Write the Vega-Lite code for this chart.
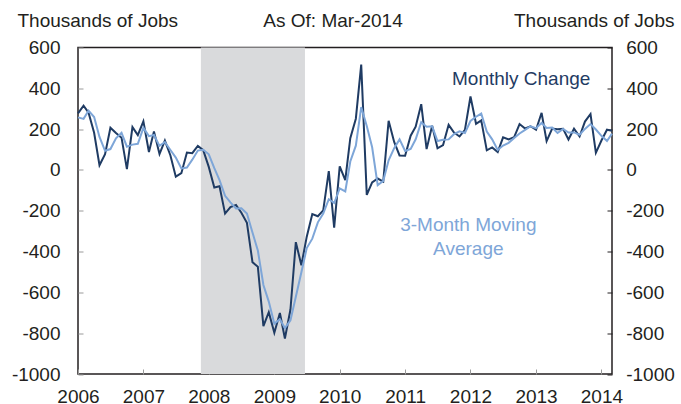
{
  "$schema": "https://vega.github.io/schema/vega-lite/v6.json",
  "width": 534,
  "height": 326.5,
  "autosize": {"type": "none"},
  "padding": {"left": 78, "top": 47.5, "right": 69, "bottom": 30},
  "background": "white",
  "title": {"text": "As Of: Mar-2014", "anchor": "middle", "frame": "group", "dx": -12, "dy": 23, "fontSize": 19, "font": "Liberation Sans", "fontWeight": "normal", "color": "#231f20"},
  "datasets": {
    "jobs": [
      {"date":"2006-01-01","change":277,"ma":257.7},{"date":"2006-02-01","change":315,"ma":250.3},{"date":"2006-03-01","change":280,"ma":290.7},{"date":"2006-04-01","change":182,"ma":259.0},{"date":"2006-05-01","change":23,"ma":161.7},{"date":"2006-06-01","change":77,"ma":94.0},{"date":"2006-07-01","change":207,"ma":102.3},{"date":"2006-08-01","change":181,"ma":155.0},{"date":"2006-09-01","change":158,"ma":182.0},{"date":"2006-10-01","change":4,"ma":114.3},{"date":"2006-11-01","change":210,"ma":124.0},{"date":"2006-12-01","change":171,"ma":128.3},
      {"date":"2007-01-01","change":238,"ma":206.3},{"date":"2007-02-01","change":88,"ma":165.7},{"date":"2007-03-01","change":188,"ma":171.3},{"date":"2007-04-01","change":78,"ma":118.0},{"date":"2007-05-01","change":144,"ma":136.7},{"date":"2007-06-01","change":71,"ma":97.7},{"date":"2007-07-01","change":-33,"ma":60.7},{"date":"2007-08-01","change":-16,"ma":7.3},{"date":"2007-09-01","change":85,"ma":12.0},{"date":"2007-10-01","change":82,"ma":50.3},{"date":"2007-11-01","change":118,"ma":95.0},{"date":"2007-12-01","change":97,"ma":99.0},
      {"date":"2008-01-01","change":15,"ma":76.7},{"date":"2008-02-01","change":-86,"ma":8.7},{"date":"2008-03-01","change":-80,"ma":-50.3},{"date":"2008-04-01","change":-214,"ma":-126.7},{"date":"2008-05-01","change":-182,"ma":-158.7},{"date":"2008-06-01","change":-172,"ma":-189.3},{"date":"2008-07-01","change":-210,"ma":-188.0},{"date":"2008-08-01","change":-259,"ma":-213.7},{"date":"2008-09-01","change":-452,"ma":-307.0},{"date":"2008-10-01","change":-474,"ma":-395.0},{"date":"2008-11-01","change":-765,"ma":-563.7},{"date":"2008-12-01","change":-697,"ma":-645.3},
      {"date":"2009-01-01","change":-798,"ma":-753.3},{"date":"2009-02-01","change":-701,"ma":-732.0},{"date":"2009-03-01","change":-826,"ma":-775.0},{"date":"2009-04-01","change":-684,"ma":-737.0},{"date":"2009-05-01","change":-354,"ma":-621.3},{"date":"2009-06-01","change":-467,"ma":-501.7},{"date":"2009-07-01","change":-327,"ma":-382.7},{"date":"2009-08-01","change":-216,"ma":-336.7},{"date":"2009-09-01","change":-227,"ma":-256.7},{"date":"2009-10-01","change":-198,"ma":-213.7},{"date":"2009-11-01","change":-6,"ma":-143.7},{"date":"2009-12-01","change":-283,"ma":-162.3},
      {"date":"2010-01-01","change":18,"ma":-90.3},{"date":"2010-02-01","change":-50,"ma":-105.0},{"date":"2010-03-01","change":156,"ma":41.3},{"date":"2010-04-01","change":251,"ma":119.0},{"date":"2010-05-01","change":516,"ma":307.7},{"date":"2010-06-01","change":-122,"ma":215.0},{"date":"2010-07-01","change":-61,"ma":111.0},{"date":"2010-08-01","change":-42,"ma":-75.0},{"date":"2010-09-01","change":-57,"ma":-53.3},{"date":"2010-10-01","change":241,"ma":47.3},{"date":"2010-11-01","change":137,"ma":107.0},{"date":"2010-12-01","change":71,"ma":149.7},
      {"date":"2011-01-01","change":70,"ma":92.7},{"date":"2011-02-01","change":168,"ma":103.0},{"date":"2011-03-01","change":212,"ma":150.0},{"date":"2011-04-01","change":322,"ma":234.0},{"date":"2011-05-01","change":102,"ma":212.0},{"date":"2011-06-01","change":217,"ma":213.7},{"date":"2011-07-01","change":106,"ma":141.7},{"date":"2011-08-01","change":122,"ma":148.3},{"date":"2011-09-01","change":221,"ma":149.7},{"date":"2011-10-01","change":183,"ma":175.3},{"date":"2011-11-01","change":164,"ma":189.3},{"date":"2011-12-01","change":196,"ma":181.0},
      {"date":"2012-01-01","change":360,"ma":240.0},{"date":"2012-02-01","change":226,"ma":260.7},{"date":"2012-03-01","change":243,"ma":276.3},{"date":"2012-04-01","change":96,"ma":188.3},{"date":"2012-05-01","change":110,"ma":149.7},{"date":"2012-06-01","change":88,"ma":98.0},{"date":"2012-07-01","change":160,"ma":119.3},{"date":"2012-08-01","change":150,"ma":132.7},{"date":"2012-09-01","change":161,"ma":157.0},{"date":"2012-10-01","change":225,"ma":178.7},{"date":"2012-11-01","change":203,"ma":196.3},{"date":"2012-12-01","change":214,"ma":214.0},
      {"date":"2013-01-01","change":197,"ma":204.7},{"date":"2013-02-01","change":280,"ma":230.3},{"date":"2013-03-01","change":141,"ma":206.0},{"date":"2013-04-01","change":203,"ma":208.0},{"date":"2013-05-01","change":199,"ma":181.0},{"date":"2013-06-01","change":201,"ma":201.0},{"date":"2013-07-01","change":149,"ma":183.0},{"date":"2013-08-01","change":202,"ma":184.0},{"date":"2013-09-01","change":164,"ma":171.7},{"date":"2013-10-01","change":237,"ma":201.0},{"date":"2013-11-01","change":274,"ma":225.0},{"date":"2013-12-01","change":84,"ma":198.3},
      {"date":"2014-01-01","change":144,"ma":167.3},{"date":"2014-02-01","change":197,"ma":141.7},{"date":"2014-03-01","change":192,"ma":177.7}
    ],
    "recession": [{"start":"2007-11-18","end":"2009-06-21"}],
    "monthlyLabel": [{"date":"2012-10-10","value":416,"label":"Monthly Change"}],
    "maLabel": [{"date":"2011-12-20","value":-300,"label":"3-Month Moving"},{"date":"2011-12-20","value":-415,"label":"Average"}]
  },
  "config": {
    "view": {"stroke": "#231f20", "strokeWidth": 1.5},
    "font": "Liberation Sans",
    "axis": {
      "labelFont": "Liberation Sans", "labelFontSize": 19, "labelColor": "#231f20",
      "titleFont": "Liberation Sans", "titleFontSize": 19, "titleColor": "#231f20", "titleFontWeight": "normal",
      "grid": false, "domain": false, "tickSize": -5, "tickColor": "#9a9a9a", "tickWidth": 1
    }
  },
  "resolve": {"axis": {"y": "independent"}},
  "layer": [
    {
      "data": {"name": "recession"},
      "mark": {"type": "rect", "color": "#d9dadc"},
      "encoding": {
        "x": {"field": "start", "type": "temporal", "scale": {"type": "utc", "domain": [{"year":2006,"month":1,"date":1,"utc":true},{"year":2014,"month":3,"date":1,"utc":true}]}, "axis": {"title": null, "format": "%Y", "formatType": "utc", "tickCount": {"interval": "year", "step": 1}, "labelPadding": 18, "labelBaseline": "top", "labelFlush": false, "labelOverlap": false}},
        "x2": {"field": "end"}
      }
    },
    {
      "mark": {"type": "rule", "color": "#231f20", "strokeWidth": 1.6},
      "encoding": {"y": {"datum": 0, "type": "quantitative", "axis": null}}
    },
    {
      "data": {"name": "jobs"},
      "mark": {"type": "line", "color": "#1f3b63", "strokeWidth": 2, "interpolate": "linear"},
      "encoding": {
        "x": {"field": "date", "type": "temporal", "axis": {"title": null}},
        "y": {"field": "change", "type": "quantitative", "scale": {"domain": [-1000, 600], "nice": false, "zero": false},
          "axis": {"orient": "left", "values": [-1000,-800,-600,-400,-200,0,200,400,600], "labelExpr": "'' + datum.value", "title": "Thousands of Jobs", "titleAngle": 0, "titleAlign": "left", "titleBaseline": "alphabetic", "titleX": -61, "titleY": -21, "labelPadding": 23}}
      }
    },
    {
      "data": {"name": "jobs"},
      "mark": {"type": "line", "color": "#7ea6d8", "strokeWidth": 2, "interpolate": "linear"},
      "encoding": {
        "x": {"field": "date", "type": "temporal", "axis": {"title": null}},
        "y": {"field": "ma", "type": "quantitative",
          "axis": {"orient": "right", "values": [-1000,-800,-600,-400,-200,0,200,400,600], "labelExpr": "'' + datum.value", "title": "Thousands of Jobs", "titleAngle": 0, "titleAlign": "right", "titleBaseline": "alphabetic", "titleX": 62, "titleY": -21, "labelPadding": 18.7, "tickColor": "#231f20"}}
      }
    },
    {
      "data": {"name": "monthlyLabel"},
      "mark": {"type": "text", "color": "#1f3b63", "fontSize": 19, "font": "Liberation Sans", "align": "center", "baseline": "alphabetic"},
      "encoding": {
        "x": {"field": "date", "type": "temporal", "axis": {"title": null}},
        "y": {"field": "value", "type": "quantitative", "axis": null},
        "text": {"field": "label"}
      }
    },
    {
      "data": {"name": "maLabel"},
      "mark": {"type": "text", "color": "#7ea6d8", "fontSize": 19, "font": "Liberation Sans", "align": "center", "baseline": "alphabetic"},
      "encoding": {
        "x": {"field": "date", "type": "temporal", "axis": {"title": null}},
        "y": {"field": "value", "type": "quantitative", "axis": null},
        "text": {"field": "label"}
      }
    }
  ]
}
